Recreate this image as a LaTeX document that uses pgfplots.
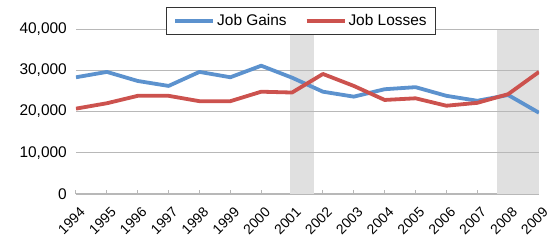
\documentclass[border=0pt]{standalone}
\usepackage{pgfplots}
\pgfplotsset{compat=1.18}
\usepackage{fontspec}
\setmainfont{Liberation Sans}
\definecolor{gainblue}{RGB}{92,146,206}
\definecolor{lossred}{RGB}{204,82,78}
\definecolor{shade}{RGB}{224,224,224}
\definecolor{gridc}{RGB}{184,184,184}
\begin{document}
\begin{tikzpicture}
\begin{axis}[
  at={(0,0)}, anchor=south west,
  scale only axis, width=463bp, height=165bp,
  xmin=1994, xmax=2009, ymin=0, ymax=40000,
  xtick={1994,...,2009},
  ytick={0,10000,20000,30000,40000},
  scaled y ticks=false,
  /pgf/number format/assume math mode=true,
  font=\fontsize{15.5}{18}\selectfont,
  yticklabel style={/pgf/number format/1000 sep={,}, inner xsep=0pt, xshift=-9bp},
  xticklabel style={/pgf/number format/1000 sep={}, font=\fontsize{14}{16}\selectfont, rotate=45, anchor=north east, inner sep=0bp, xshift=-6.4bp, yshift=-10.7bp},
  axis x line*=bottom, axis y line*=left,
  x axis line style={-, draw=gridc, line width=1.2bp},
  y axis line style={draw=none},
  ytick style={draw=none},
  xtick style={draw=gridc, line width=1bp},
  tick align=inside, major tick length=4bp,
  legend columns=2,
  legend style={at={(0.486,1.133)}, anchor=north, draw=black!80, line width=0.8bp,
    inner xsep=7bp, inner ysep=5bp,
    /tikz/every even column/.append style={column sep=16bp}},
  legend image code/.code={\draw[#1, line width=3.8bp] (0bp,0bp) -- (38bp,0bp);},
]
\addplot[draw=none, fill=shade, forget plot] coordinates {(2000.93,0) (2000.93,40000) (2001.71,40000) (2001.71,0)} -- cycle;
\addplot[draw=none, fill=shade, forget plot] coordinates {(2007.64,0) (2007.64,40000) (2009,40000) (2009,0)} -- cycle;
\addplot[draw=gridc, line width=1.2bp, forget plot] coordinates {(1994,10000) (2009,10000)};
\addplot[draw=gridc, line width=1.2bp, forget plot] coordinates {(1994,20000) (2009,20000)};
\addplot[draw=gridc, line width=1.2bp, forget plot] coordinates {(1994,30000) (2009,30000)};
\addplot[draw=gridc, line width=1.2bp, forget plot] coordinates {(1994,40000) (2009,40000)};
\addplot[gainblue, line width=3.8bp, line join=round] coordinates {
(1994,28300) (1995,29600) (1996,27400) (1997,26200) (1998,29600) (1999,28300)
(2000,31100) (2001,28200) (2002,24800) (2003,23600) (2004,25400) (2005,25900)
(2006,23800) (2007,22600) (2008,24000) (2009,19700)};
\addlegendentry{Job Gains}
\addplot[lossred, line width=3.8bp, line join=round] coordinates {
(1994,20700) (1995,22000) (1996,23800) (1997,23800) (1998,22500) (1999,22500)
(2000,24800) (2001,24600) (2002,29100) (2003,26200) (2004,22800) (2005,23200)
(2006,21400) (2007,22100) (2008,24200) (2009,29600)};
\addlegendentry{Job Losses}
\end{axis}
\pgfresetboundingbox
\useasboundingbox (-76bp,-49bp) rectangle (476bp,194bp);
\end{tikzpicture}
\end{document}
